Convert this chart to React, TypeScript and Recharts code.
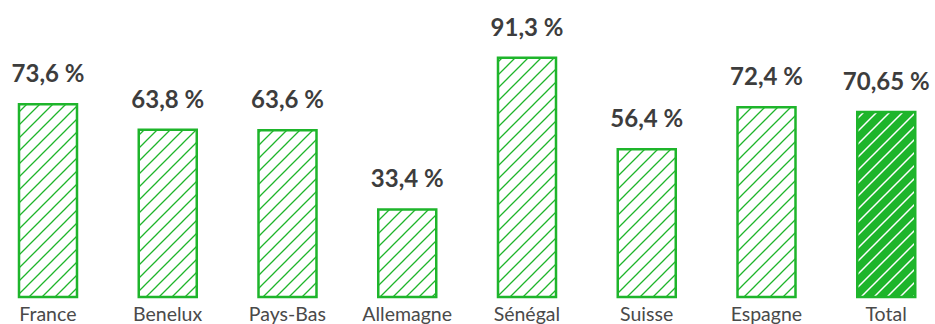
import React from 'react';
import { BarChart, Bar, XAxis, YAxis, Cell, LabelList } from 'recharts';

const categories = ['France', 'Benelux', 'Pays-Bas', 'Allemagne', 'Sénégal', 'Suisse', 'Espagne', 'Total'];
const values = [73.6, 63.8, 63.6, 33.4, 91.3, 56.4, 72.4, 70.65];

const data = categories.map((name, i) => ({ name, value: values[i] }));

const GREEN = '#1eb52b';

const fmt = (v: any) => String(v).replace('.', ',') + ' %';

export default function App() {
  return (
    <div style={{ position: 'absolute', left: 0, top: 0, width: 935, height: 324, overflow: 'hidden', background: '#fff' }}>
      <div style={{ position: 'absolute', left: -12, top: 0 }}>
        <BarChart width={958} height={340} data={data} margin={{ top: 35, right: 0, bottom: 0, left: 0 }}>
          <defs>
            <pattern id="hatch" patternUnits="userSpaceOnUse" width="13" height="13">
              <rect x="0" y="0" width="13" height="13" fill="#fff" />
              <path d="M0,13 L13,0 M-3,3 L3,-3 M10,16 L16,10" stroke={GREEN} strokeWidth="1.3" />
            </pattern>
            <pattern id="hatchSolid" patternUnits="userSpaceOnUse" width="13" height="13">
              <rect x="0" y="0" width="13" height="13" fill={GREEN} />
              <path d="M0,13 L13,0 M-3,3 L3,-3 M10,16 L16,10" stroke="#fff" strokeWidth="1.5" />
            </pattern>
          </defs>
          <XAxis
            dataKey="name"
            axisLine={false}
            tickLine={false}
            tickSize={0}
            tickMargin={10}
            height={43}
            interval={0}
            tick={{ fill: '#4a4a4a', fontSize: 19.5, fontFamily: 'Lato, sans-serif' }}
          />
          <YAxis hide domain={[0, 100]} />
          <Bar dataKey="value" barSize={58} isAnimationActive={false} stroke={GREEN} strokeWidth={2.5}>
            {data.map((d, i) => (
              <Cell key={d.name} fill={i === data.length - 1 ? 'url(#hatchSolid)' : 'url(#hatch)'} />
            ))}
            <LabelList
              dataKey="value"
              position="top"
              offset={22}
              formatter={fmt}
              style={{ fill: '#3d3d3d', fontSize: 24, fontWeight: 700, fontFamily: 'Lato, sans-serif' }}
            />
          </Bar>
        </BarChart>
      </div>
    </div>
  );
}
